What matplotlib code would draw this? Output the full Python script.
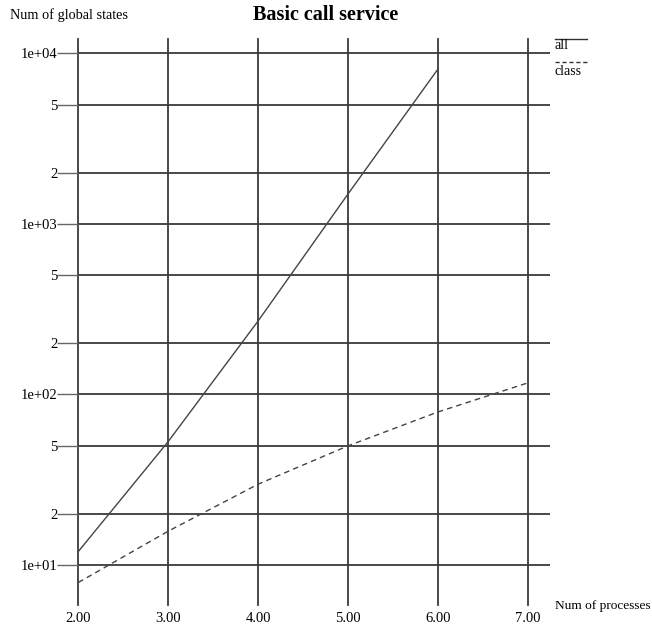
import numpy as np
import matplotlib
matplotlib.use("Agg")
import matplotlib.pyplot as plt
from matplotlib.lines import Line2D
from matplotlib.ticker import FixedLocator, FixedFormatter, NullFormatter

# data
procs_all = [2, 3, 4, 5, 6]
states_all = [12, 53, 270, 1500, 8100]
procs_class = [2, 3, 4, 5, 6, 7]
states_class = [7.9, 15.8, 29.8, 50, 79, 117]

x_ticks = [2, 3, 4, 5, 6, 7]
x_labels = ["2.00", "3.00", "4.00", "5.00", "6.00", "7.00"]
y_ticks = [10, 20, 50, 100, 200, 500, 1000, 2000, 5000, 10000]
y_labels = ["1e+01", "2", "5", "1e+02", "2", "5", "1e+03", "2", "5", "1e+04"]

plt.rcParams["font.family"] = ["Liberation Serif", "DejaVu Serif"]

fig = plt.figure(figsize=(6.52, 6.28), dpi=100)
ax = fig.add_axes([0.1201, 0.0366, 0.7235, 0.9013])

ax.set_yscale("log")
ax.set_xlim(2, 7.245)
ax.set_ylim(5.83, 12130)

grid_col = "#3a3a3a"
ax.plot(procs_all, states_all, color="#444444", lw=1.0)
ax.plot(procs_class, states_class, color="#444444", lw=1.0, dashes=(4, 3))

ax.yaxis.set_major_locator(FixedLocator(y_ticks))
ax.yaxis.set_major_formatter(FixedFormatter(y_labels))
ax.yaxis.set_minor_locator(FixedLocator([]))
ax.yaxis.set_minor_formatter(NullFormatter())
ax.set_xticks(x_ticks)
ax.set_xticklabels(x_labels)

ax.grid(True, color=grid_col, lw=1.3)
ax.set_axisbelow(True)
for gl in ax.get_xgridlines():
    gl.set_clip_on(False)
for s in ax.spines.values():
    s.set_visible(False)

ax.tick_params(axis="y", length=15, width=1.0, color="#666666", pad=0,
               labelsize=10.5)
ax.tick_params(axis="x", length=0, pad=5, labelsize=10.5)

fig.text(0.5, 0.976, "Basic call service", ha="center", va="center",
         fontsize=14.5, fontweight="bold")
fig.text(0.015, 0.976, "Num of global states", ha="left", va="center",
         fontsize=10.3)
fig.text(0.851, 0.035, "Num of processes", ha="left", va="center",
         fontsize=9.6)

# legend drawn as overlined labels
fig.add_artist(Line2D([0.851, 0.900], [0.938, 0.938], color="#333333", lw=1.0))
fig.text(0.851, 0.927, "all", ha="left", va="center", fontsize=10)
fig.add_artist(Line2D([0.851, 0.900], [0.902, 0.902], color="#333333", lw=1.0,
                      dashes=(3, 2)))
fig.text(0.851, 0.886, "class", ha="left", va="center", fontsize=10)

fig.savefig("out.png", dpi=100)
